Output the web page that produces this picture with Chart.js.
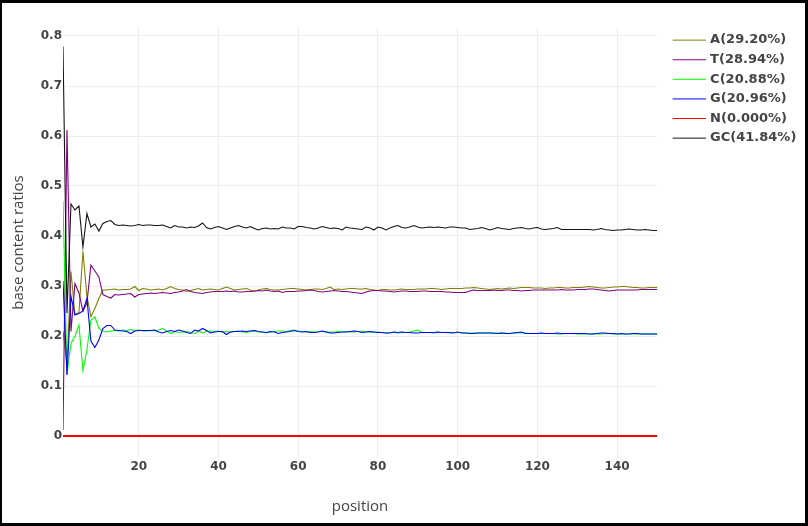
<!DOCTYPE html>
<html>
<head>
<meta charset="utf-8">
<title>base contents</title>
<script src="https://cdn.jsdelivr.net/npm/chart.js@4.4.1/dist/chart.umd.min.js"></script>
<style>
  html, body { margin: 0; padding: 0; background: #fff; }
  #frame { position: relative; width: 808px; height: 526px; overflow: hidden; }
  #plot { position: absolute; left: 0; top: 0; width: 797px; height: 526px; }
  #edge { position: absolute; left: 0; top: 0; width: 808px; height: 526px; box-sizing: border-box;
          border: 3px solid #000; border-left-width: 2px; pointer-events: none; }
</style>
</head>
<body>
<div id="frame">
  <div id="plot"><canvas id="myChart"></canvas></div>
  <div id="edge"></div>
</div>
<script>
// legend texts and colours, same order as the series below
const seriesNames = ['A(29.20%)', 'T(28.94%)', 'C(20.88%)', 'G(20.96%)', 'N(0.000%)', 'GC(41.84%)'];
const seriesColors = ['rgb(128,128,0)', 'rgb(128,0,128)', 'rgb(0,255,0)', 'rgb(0,0,255)', 'rgb(255,0,0)', 'rgb(20,20,20)'];

const yTicks = [0, 0.1, 0.2, 0.3, 0.4, 0.5, 0.6, 0.7, 0.8];
const xTicks = [20, 40, 60, 80, 100, 120, 140];

// base ratios per read position 1..150
const ratioA = [
    0.210, 0.142, 0.329, 0.243, 0.247, 0.369, 0.280, 0.239, 0.255, 0.275,
    0.292, 0.292, 0.293, 0.294, 0.292, 0.293, 0.293, 0.294, 0.299, 0.291,
    0.295, 0.294, 0.292, 0.293, 0.294, 0.292, 0.295, 0.299, 0.295, 0.293,
    0.292, 0.289, 0.291, 0.293, 0.295, 0.292, 0.293, 0.294, 0.293, 0.292,
    0.295, 0.298, 0.295, 0.292, 0.293, 0.294, 0.295, 0.292, 0.289, 0.292,
    0.294, 0.295, 0.293, 0.292, 0.292, 0.293, 0.294, 0.295, 0.295, 0.294,
    0.293, 0.292, 0.293, 0.294, 0.294, 0.293, 0.295, 0.298, 0.293, 0.294,
    0.293, 0.294, 0.295, 0.295, 0.294, 0.294, 0.295, 0.293, 0.292, 0.291,
    0.293, 0.293, 0.292, 0.292, 0.293, 0.294, 0.293, 0.293, 0.293, 0.294,
    0.294, 0.294, 0.295, 0.295, 0.294, 0.293, 0.294, 0.295, 0.295, 0.295,
    0.295, 0.296, 0.296, 0.297, 0.296, 0.295, 0.294, 0.293, 0.294, 0.295,
    0.294, 0.295, 0.296, 0.295, 0.296, 0.297, 0.297, 0.297, 0.296, 0.296,
    0.296, 0.295, 0.296, 0.296, 0.297, 0.297, 0.296, 0.296, 0.297, 0.297,
    0.297, 0.298, 0.299, 0.298, 0.297, 0.296, 0.296, 0.297, 0.298, 0.298,
    0.299, 0.299, 0.298, 0.297, 0.297, 0.296, 0.296, 0.297, 0.297, 0.297
];
const ratioT = [
    0.012, 0.612, 0.209, 0.305, 0.286, 0.250, 0.266, 0.342, 0.330, 0.318,
    0.283, 0.279, 0.276, 0.283, 0.282, 0.283, 0.284, 0.285, 0.278, 0.283,
    0.284, 0.285, 0.286, 0.285, 0.286, 0.287, 0.286, 0.285, 0.287, 0.288,
    0.290, 0.293, 0.289, 0.287, 0.286, 0.285, 0.287, 0.288, 0.289, 0.289,
    0.289, 0.290, 0.289, 0.290, 0.288, 0.288, 0.289, 0.289, 0.290, 0.291,
    0.290, 0.292, 0.290, 0.289, 0.290, 0.287, 0.289, 0.289, 0.289, 0.290,
    0.290, 0.291, 0.292, 0.291, 0.289, 0.288, 0.289, 0.290, 0.291, 0.290,
    0.289, 0.289, 0.288, 0.287, 0.286, 0.285, 0.288, 0.290, 0.291, 0.291,
    0.290, 0.290, 0.289, 0.288, 0.289, 0.290, 0.290, 0.289, 0.289, 0.289,
    0.290, 0.290, 0.289, 0.289, 0.289, 0.289, 0.288, 0.288, 0.287, 0.287,
    0.287, 0.287, 0.290, 0.292, 0.291, 0.291, 0.291, 0.291, 0.292, 0.291,
    0.291, 0.292, 0.292, 0.291, 0.291, 0.290, 0.291, 0.291, 0.292, 0.292,
    0.292, 0.292, 0.292, 0.292, 0.292, 0.293, 0.292, 0.292, 0.292, 0.293,
    0.293, 0.293, 0.294, 0.294, 0.293, 0.292, 0.291, 0.290, 0.291, 0.292,
    0.292, 0.292, 0.292, 0.292, 0.292, 0.293, 0.293, 0.293, 0.293, 0.293
];
const ratioC = [
    0.469, 0.124, 0.185, 0.200, 0.222, 0.131, 0.172, 0.232, 0.238, 0.215,
    0.210, 0.208, 0.210, 0.211, 0.210, 0.212, 0.211, 0.213, 0.211, 0.212,
    0.210, 0.210, 0.211, 0.210, 0.212, 0.215, 0.210, 0.205, 0.209, 0.207,
    0.208, 0.209, 0.207, 0.205, 0.210, 0.206, 0.209, 0.210, 0.209, 0.210,
    0.207, 0.209, 0.208, 0.209, 0.210, 0.208, 0.207, 0.209, 0.210, 0.208,
    0.208, 0.206, 0.208, 0.209, 0.210, 0.210, 0.209, 0.211, 0.212, 0.210,
    0.209, 0.208, 0.209, 0.208, 0.209, 0.209, 0.208, 0.208, 0.208, 0.209,
    0.208, 0.209, 0.208, 0.208, 0.209, 0.210, 0.208, 0.208, 0.207, 0.208,
    0.207, 0.206, 0.207, 0.207, 0.206, 0.207, 0.207, 0.208, 0.210, 0.212,
    0.207, 0.207, 0.207, 0.206, 0.207, 0.207, 0.207, 0.206, 0.207, 0.207,
    0.207, 0.206, 0.206, 0.206, 0.206, 0.206, 0.206, 0.206, 0.205, 0.206,
    0.206, 0.206, 0.205, 0.206, 0.206, 0.206, 0.206, 0.205, 0.205, 0.205,
    0.205, 0.205, 0.205, 0.205, 0.204, 0.204, 0.205, 0.205, 0.205, 0.204,
    0.204, 0.204, 0.204, 0.205, 0.204, 0.204, 0.205, 0.205, 0.204, 0.204,
    0.204, 0.204, 0.204, 0.204, 0.204, 0.204, 0.204, 0.204, 0.204, 0.204
];
const ratioG = [
    0.310, 0.122, 0.279, 0.242, 0.245, 0.250, 0.275, 0.190, 0.177, 0.192,
    0.215, 0.221, 0.221, 0.212, 0.211, 0.210, 0.209, 0.205, 0.210, 0.211,
    0.211, 0.211, 0.211, 0.212, 0.208, 0.206, 0.209, 0.211, 0.209, 0.212,
    0.210, 0.207, 0.205, 0.212, 0.210, 0.215, 0.211, 0.206, 0.208, 0.209,
    0.209, 0.203, 0.208, 0.209, 0.209, 0.210, 0.209, 0.210, 0.211, 0.209,
    0.208, 0.207, 0.209, 0.208, 0.205, 0.207, 0.208, 0.209, 0.211, 0.209,
    0.208, 0.209, 0.207, 0.207, 0.208, 0.210, 0.208, 0.206, 0.206, 0.207,
    0.208, 0.208, 0.209, 0.210, 0.209, 0.207, 0.208, 0.209, 0.208, 0.207,
    0.207, 0.206, 0.206, 0.208, 0.207, 0.208, 0.207, 0.207, 0.206, 0.206,
    0.207, 0.207, 0.207, 0.207, 0.208, 0.207, 0.207, 0.207, 0.206, 0.208,
    0.206, 0.206, 0.205, 0.205, 0.206, 0.206, 0.206, 0.206, 0.206, 0.205,
    0.206, 0.205, 0.205, 0.206, 0.207, 0.208, 0.205, 0.205, 0.205, 0.205,
    0.206, 0.205, 0.205, 0.205, 0.206, 0.205, 0.205, 0.205, 0.205, 0.205,
    0.205, 0.205, 0.204, 0.204, 0.205, 0.206, 0.206, 0.205, 0.205, 0.204,
    0.205, 0.204, 0.204, 0.205, 0.205, 0.204, 0.204, 0.204, 0.204, 0.204
];
const ratioN = [
    0, 0, 0, 0, 0, 0, 0, 0, 0, 0,   0, 0, 0, 0, 0, 0, 0, 0, 0, 0,
    0, 0, 0, 0, 0, 0, 0, 0, 0, 0,   0, 0, 0, 0, 0, 0, 0, 0, 0, 0,
    0, 0, 0, 0, 0, 0, 0, 0, 0, 0,   0, 0, 0, 0, 0, 0, 0, 0, 0, 0,
    0, 0, 0, 0, 0, 0, 0, 0, 0, 0,   0, 0, 0, 0, 0, 0, 0, 0, 0, 0,
    0, 0, 0, 0, 0, 0, 0, 0, 0, 0,   0, 0, 0, 0, 0, 0, 0, 0, 0, 0,
    0, 0, 0, 0, 0, 0, 0, 0, 0, 0,   0, 0, 0, 0, 0, 0, 0, 0, 0, 0,
    0, 0, 0, 0, 0, 0, 0, 0, 0, 0,   0, 0, 0, 0, 0, 0, 0, 0, 0, 0,
    0, 0, 0, 0, 0, 0, 0, 0, 0, 0
];
const ratioGC = [
    0.779, 0.246, 0.464, 0.452, 0.460, 0.378, 0.445, 0.418, 0.424, 0.410,
    0.425, 0.429, 0.431, 0.423, 0.421, 0.422, 0.421, 0.420, 0.421, 0.423,
    0.421, 0.422, 0.422, 0.421, 0.421, 0.422, 0.419, 0.416, 0.421, 0.418,
    0.418, 0.416, 0.418, 0.417, 0.420, 0.426, 0.417, 0.414, 0.417, 0.419,
    0.416, 0.413, 0.416, 0.419, 0.421, 0.418, 0.416, 0.419, 0.415, 0.412,
    0.415, 0.416, 0.414, 0.415, 0.414, 0.418, 0.416, 0.416, 0.414, 0.419,
    0.419, 0.417, 0.416, 0.414, 0.416, 0.419, 0.417, 0.415, 0.416, 0.415,
    0.412, 0.418, 0.416, 0.415, 0.414, 0.413, 0.418, 0.416, 0.412, 0.418,
    0.416, 0.412, 0.416, 0.419, 0.421, 0.417, 0.416, 0.418, 0.421, 0.418,
    0.416, 0.417, 0.418, 0.417, 0.418, 0.417, 0.416, 0.418, 0.418, 0.417,
    0.416, 0.416, 0.413, 0.414, 0.415, 0.417, 0.415, 0.412, 0.414, 0.417,
    0.415, 0.414, 0.413, 0.415, 0.416, 0.417, 0.415, 0.414, 0.416, 0.417,
    0.414, 0.413, 0.414, 0.415, 0.417, 0.413, 0.413, 0.413, 0.413, 0.413,
    0.413, 0.413, 0.413, 0.412, 0.413, 0.415, 0.413, 0.412, 0.411, 0.412,
    0.412, 0.413, 0.414, 0.413, 0.412, 0.412, 0.413, 0.412, 0.411, 0.411
];

const positions = ratioA.map((v, i) => i + 1);
const allSeries = [ratioA, ratioT, ratioC, ratioG, ratioN, ratioGC];

// small picture used as the legend symbol: a thin line with some space before it
function legendLine(color) {
    const c = document.createElement('canvas');
    c.width = 44;
    c.height = 5;
    const g = c.getContext('2d');
    g.strokeStyle = color;
    g.lineWidth = 1;
    g.beginPath();
    g.moveTo(11, 2.5);
    g.lineTo(44, 2.5);
    g.stroke();
    return c;
}

const tickFont = { family: 'DejaVu Sans', weight: 'bold', size: 12 };
const titleFont = { family: 'Open Sans', size: 15 };

const myChart = new Chart(document.getElementById('myChart').getContext('2d'), {
    type: 'line',
    data: {
        labels: positions,
        datasets: allSeries.map((values, i) => ({
            label: seriesNames[i],
            data: values,
            borderColor: seriesColors[i],
            backgroundColor: seriesColors[i],
            borderWidth: i === 4 ? 2 : 1.1,
            pointRadius: 0,
            pointHoverRadius: 0,
            pointStyle: legendLine(seriesColors[i]),
            tension: 0,
            order: 5 - i
        }))
    },
    options: {
        responsive: true,
        maintainAspectRatio: false,
        animation: false,
        layout: { padding: { top: 27, right: 0, bottom: 0, left: 0 } },
        plugins: {
            tooltip: { enabled: false },
            legend: {
                position: 'right',
                align: 'start',
                maxWidth: 140,
                labels: {
                    usePointStyle: true,
                    pointStyleWidth: 40,
                    padding: 6.6,
                    color: '#444',
                    font: { family: 'DejaVu Sans', weight: 'bold', size: 13 },
                    sort: (a, b) => a.datasetIndex - b.datasetIndex
                }
            }
        },
        scales: {
            x: {
                type: 'linear',
                min: 1,
                max: 150,
                afterBuildTicks: (scale) => { scale.ticks = xTicks.map(v => ({ value: v })); },
                afterFit: (scale) => { scale.height = 68; },
                grid: { color: '#eee', drawTicks: false },
                border: { display: false },
                ticks: { padding: 2, color: '#444', font: tickFont, maxRotation: 0, autoSkip: false },
                title: { display: true, text: 'position', color: '#444', font: titleFont, padding: { top: 0, bottom: 10 } }
            },
            y: {
                min: -0.044,
                max: 0.818,
                afterBuildTicks: (scale) => { scale.ticks = yTicks.map(v => ({ value: v })); },
                afterFit: (scale) => { scale.width = 63; },
                grid: {
                    color: (ctx) => (ctx.tick && ctx.tick.value === 0 ? '#444' : '#eee'),
                    drawTicks: false
                },
                border: { display: false },
                ticks: {
                    padding: 1,
                    color: '#444',
                    font: tickFont,
                    autoSkip: false,
                    callback: (v) => (v === 0 ? '0' : v.toFixed(1))
                },
                title: { display: true, text: 'base content ratios', color: '#444', font: titleFont, padding: { top: 10, bottom: 0 } }
            }
        }
    }
});
</script>
</body>
</html>
